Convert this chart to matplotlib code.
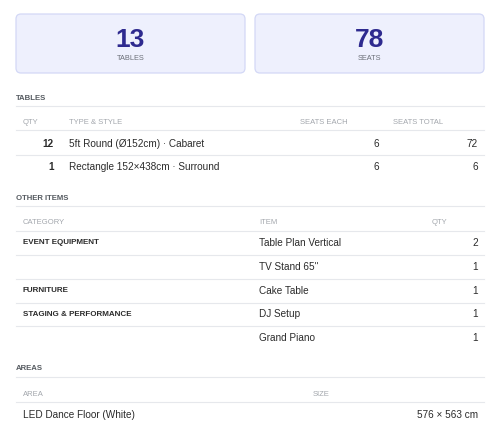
import matplotlib
matplotlib.use("Agg")
import matplotlib.pyplot as plt
from matplotlib.patches import FancyBboxPatch

plt.rcParams['font.family'] = ['Liberation Sans', 'DejaVu Sans']

summary_values = [13, 78]
summary_labels = ["TABLES", "SEATS"]

table_qty = [12, 1]
table_types = ["5ft Round (Ø152cm) · Cabaret", "Rectangle 152×438cm · Surround"]
table_seats_each = [6, 6]
table_seats_total = [72, 6]

item_categories = ["EVENT EQUIPMENT", "", "FURNITURE", "STAGING & PERFORMANCE", ""]
item_names = ["Table Plan Vertical", "TV Stand 65\"", "Cake Table", "DJ Setup", "Grand Piano"]
item_qty = [2, 1, 1, 1, 1]

area_names = ["LED Dance Floor (White)"]
area_sizes = ["576 × 563 cm"]

W, H = 501, 441
fig = plt.figure(figsize=(W / 100, H / 100), dpi=100)
ax = fig.add_axes([0, 0, 1, 1])
ax.set_xlim(0, W)
ax.set_ylim(H, 0)
ax.axis('off')

LINE = '#e6e8ec'
HEAD = '#a3a7ad'
DARK = '#2b2b2b'
SEC = '#555a60'
NUM = '#2e2a8f'
BODY = 7.2

# cards
for i, (v, lab) in enumerate(zip(summary_values, summary_labels)):
    x0 = 16 + i * 239
    ax.add_patch(FancyBboxPatch((x0, 14), 229, 59, boxstyle="round,pad=0,rounding_size=5",
                                fc='#eef0fd', ec='#d3d8f6', lw=0.9))
    ax.text(x0 + 114.5, 40, str(v), ha='center', va='center', fontsize=19,
            fontweight='bold', color=NUM)
    ax.text(x0 + 114.5, 59, lab, ha='center', va='center', fontsize=5.3, color='#6b6f78')

def hline(y):
    ax.plot([16, 484], [y, y], color=LINE, lw=0.8)

def section(title, y):
    ax.text(16, y, title, ha='left', va='center', fontsize=5.6, fontweight='bold', color=SEC)
    hline(y + 8)

# TABLES
section("TABLES", 98)
for t, x in zip(["QTY", "TYPE & STYLE", "SEATS EACH", "SEATS TOTAL"], [23, 69, 300, 393]):
    ax.text(x, 122, t, ha='left', va='center', fontsize=5.5, color=HEAD)
hline(130)
for j, (q, t, e, tot) in enumerate(zip(table_qty, table_types, table_seats_each, table_seats_total)):
    y = 144 + j * 23
    ax.text(54, y, str(q), ha='right', va='center', fontsize=BODY, fontweight='bold', color=DARK)
    ax.text(69, y, t, ha='left', va='center', fontsize=BODY, color=DARK)
    ax.text(379, y, str(e), ha='right', va='center', fontsize=BODY, color=DARK)
    ax.text(478, y, str(tot), ha='right', va='center', fontsize=BODY, color=DARK)
    if j < len(table_qty) - 1:
        hline(y + 11)

# OTHER ITEMS
section("OTHER ITEMS", 198)
for t, x in zip(["CATEGORY", "ITEM", "QTY"], [23, 259, 432]):
    ax.text(x, 223, t, ha='left', va='center', fontsize=5.5, color=HEAD)
hline(231)
for j, (c, n, q) in enumerate(zip(item_categories, item_names, item_qty)):
    y = 243 + j * 23.8
    if c:
        ax.text(23, y, c, ha='left', va='center', fontsize=5.8, fontweight='bold', color=DARK)
    ax.text(259, y, n, ha='left', va='center', fontsize=BODY, color=DARK)
    ax.text(478, y, str(q), ha='right', va='center', fontsize=BODY, color=DARK)
    if j < len(item_names) - 1:
        hline(y + 12)

# AREAS
section("AREAS", 369)
for t, x in zip(["AREA", "SIZE"], [23, 313]):
    ax.text(x, 394, t, ha='left', va='center', fontsize=5.5, color=HEAD)
hline(402)
for j, (a, s) in enumerate(zip(area_names, area_sizes)):
    y = 415 + j * 23
    ax.text(23, y, a, ha='left', va='center', fontsize=BODY, color=DARK)
    ax.text(478, y, s, ha='right', va='center', fontsize=BODY, color=DARK)

fig.savefig("out.png", dpi=100, facecolor='white')
